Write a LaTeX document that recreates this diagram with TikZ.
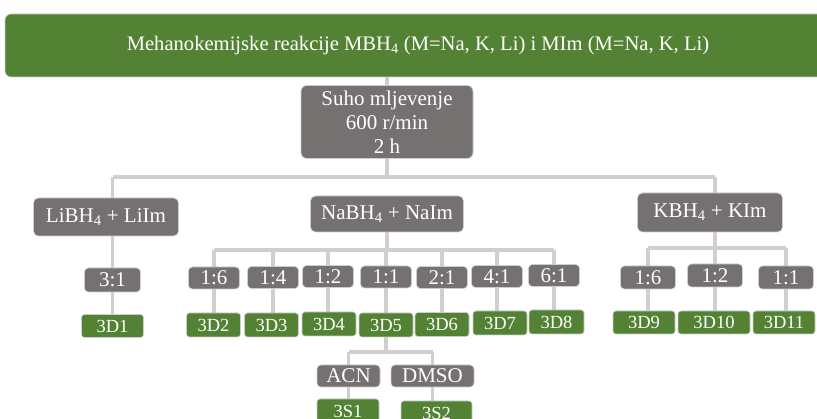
\documentclass[tikz,border=0pt]{standalone}
\usepackage{fontspec}
\setmainfont{Liberation Serif}
\usetikzlibrary{backgrounds}
\definecolor{grn}{RGB}{84,130,53}
\definecolor{gry}{RGB}{118,113,113}
\definecolor{lin}{RGB}{208,206,206}
\definecolor{edg}{RGB}{205,205,205}
\tikzset{
  gbox/.style={fill=gry, draw=edg, line width=0.6pt, rounded corners=4pt, text=white, inner sep=0pt, font=\fontsize{21}{24}\selectfont},
  grbox/.style={fill=grn, draw=edg, line width=0.6pt, rounded corners=3pt, text=white, inner sep=0pt, font=\fontsize{18.5}{20}\selectfont},
  conn/.style={draw=lin, line width=3.5pt},
}
\begin{document}
\begin{tikzpicture}[x=1pt,y=-1pt]
\useasboundingbox (0,0) rectangle (817,419);
\clip (0,0) rectangle (817,419);
% banner
\node[grbox, rounded corners=6pt, font=\fontsize{20.6}{22}\selectfont, minimum width=826pt, minimum height=63pt] (banner) at (418,45.5)
  {Mehanokemijske reakcije MBH\textsubscript{4} (M=Na, K, Li) i MIm (M=Na, K, Li)};
\node[gbox, rounded corners=6pt, align=center, minimum width=172pt, minimum height=73pt] (suho) at (387,122)
  {Suho mljevenje\\600 r/min\\2 h};
% groups
\node[gbox, rounded corners=5pt, minimum width=145pt, minimum height=38pt] (li) at (106,217) {LiBH\textsubscript{4} + LiIm};
\node[gbox, rounded corners=5pt, minimum width=153pt, minimum height=36pt] (na) at (387,214) {NaBH\textsubscript{4} + NaIm};
\node[gbox, rounded corners=5pt, minimum width=145pt, minimum height=39pt] (k) at (710,212.5) {KBH\textsubscript{4} + KIm};
% ratio boxes
\node[gbox, minimum width=56pt, minimum height=24pt] (r31) at (112.5,280) {3:1};
\node[gbox, minimum width=51pt, minimum height=22pt] (n16) at (214,278) {1:6};
\node[gbox, minimum width=51pt, minimum height=22pt] (n14) at (273,277.5) {1:4};
\node[gbox, minimum width=51pt, minimum height=22pt] (n12) at (328,276.5) {1:2};
\node[gbox, minimum width=51pt, minimum height=22pt] (n11) at (386,277) {1:1};
\node[gbox, minimum width=51pt, minimum height=22pt] (n21) at (442,277.5) {2:1};
\node[gbox, minimum width=51pt, minimum height=22pt] (n41) at (497,276.5) {4:1};
\node[gbox, minimum width=51pt, minimum height=22pt] (n61) at (554,275.5) {6:1};
\node[gbox, minimum width=55pt, minimum height=23pt] (k16) at (648,277.5) {1:6};
\node[gbox, minimum width=55pt, minimum height=23pt] (k12) at (715,275.5) {1:2};
\node[gbox, minimum width=55pt, minimum height=23pt] (k11) at (786,277.5) {1:1};
% green results
\node[grbox, minimum width=62pt, minimum height=23pt] (d1) at (112.5,326) {3D1};
\node[grbox, minimum width=54pt, minimum height=24pt] (d2) at (213.5,325) {3D2};
\node[grbox, minimum width=54pt, minimum height=24pt] (d3) at (271.5,325) {3D3};
\node[grbox, minimum width=54pt, minimum height=24pt] (d4) at (329,324) {3D4};
\node[grbox, minimum width=54pt, minimum height=24pt] (d5) at (386,325) {3D5};
\node[grbox, minimum width=54pt, minimum height=24pt] (d6) at (442,324.5) {3D6};
\node[grbox, minimum width=54pt, minimum height=24pt] (d7) at (500,323) {3D7};
\node[grbox, minimum width=55pt, minimum height=24pt] (d8) at (556.5,322) {3D8};
\node[grbox, minimum width=62pt, minimum height=23pt] (d9) at (644,322.5) {3D9};
\node[grbox, minimum width=72pt, minimum height=23pt] (d10) at (714,322.5) {3D10};
\node[grbox, minimum width=62pt, minimum height=23pt] (d11) at (784,322.5) {3D11};
% solvents
\node[gbox, minimum width=63pt, minimum height=22pt] (acn) at (348.5,376) {ACN};
\node[gbox, minimum width=83pt, minimum height=22pt] (dmso) at (432.5,376) {DMSO};
\node[grbox, minimum width=62pt, minimum height=24pt] (s1) at (348,411) {3S1};
\node[grbox, minimum width=71pt, minimum height=24pt] (s2) at (436.5,413) {3S2};
% connectors
\coordinate (b1) at (0,177);
\coordinate (nb) at (0,250);
\coordinate (kb) at (0,248);
\coordinate (sb) at (0,352);
\begin{pgfonlayer}{background}
\draw[conn] (suho |- banner) -- (suho);
\draw[conn] (suho) -- (suho |- b1);
\draw[conn] (r31 |- b1) -- (k12 |- b1);
\draw[conn] (r31 |- b1) -- (r31) -- (r31 |- d1);
\draw[conn] (na) -- (na |- nb);
\draw[conn] (n16 |- nb) -- (n61 |- nb);
\foreach \r/\d in {n16/d2,n14/d3,n12/d4,n11/d5,n21/d6,n41/d7,n61/d8}{
  \draw[conn] (\r |- nb) -- (\r) -- (\r |- \d);
}
\draw[conn] (k12 |- b1) -- (k12) -- (k12 |- d10);
\draw[conn] (k16 |- kb) -- (k11 |- kb);
\draw[conn] (k16 |- kb) -- (k16) -- (k16 |- d9);
\draw[conn] (k11 |- kb) -- (k11) -- (k11 |- d11);
\draw[conn] (d5) -- (d5 |- sb);
\draw[conn] (acn |- sb) -- (dmso |- sb);
\draw[conn] (acn |- sb) -- (acn) -- (acn |- s1);
\draw[conn] (dmso |- sb) -- (dmso) -- (dmso |- s2);
\end{pgfonlayer}
\end{tikzpicture}
\end{document}
